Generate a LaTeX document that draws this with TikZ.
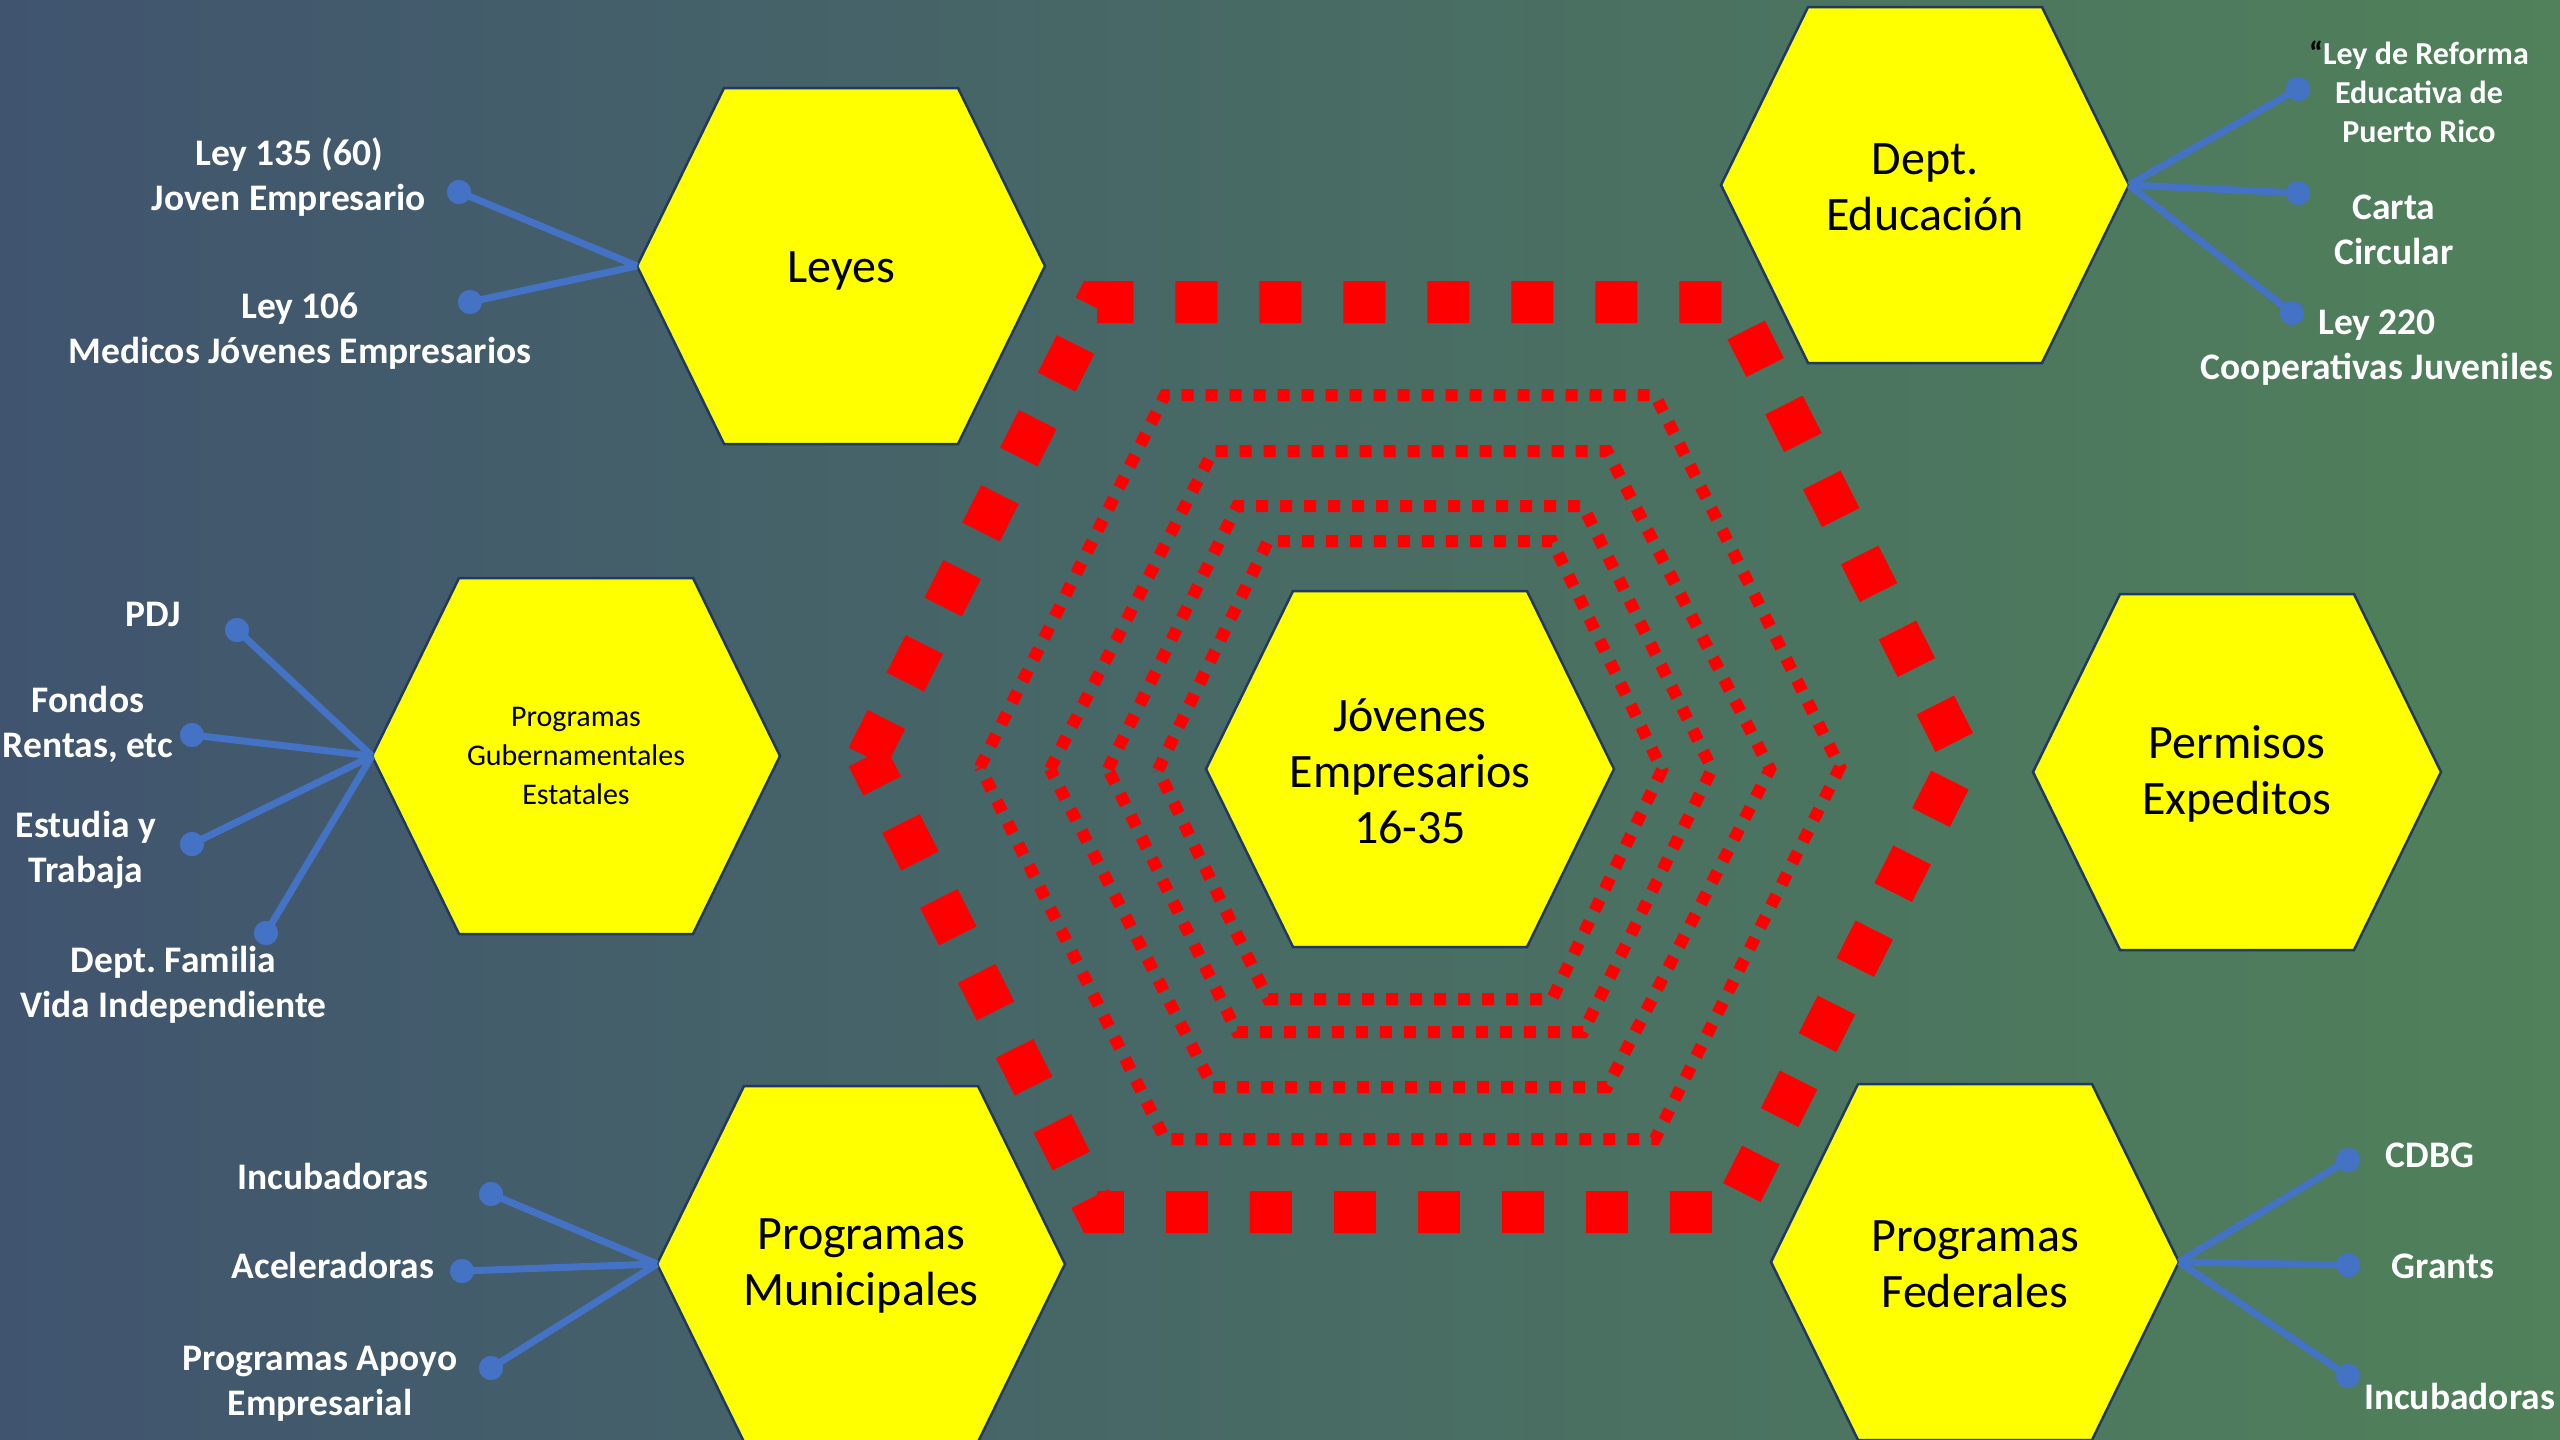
\documentclass[tikz,border=0pt]{standalone}
\usepackage{fontspec}
\setmainfont{Carlito}
\frenchspacing
\definecolor{bgleft}{RGB}{64,84,111}
\definecolor{bgright}{RGB}{80,129,90}
\definecolor{connblue}{RGB}{68,114,196}
\definecolor{hexborder}{RGB}{31,56,100}
\definecolor{hexyellow}{RGB}{255,255,0}
\newcommand{\hexnode}[5]{%
  \path[hexshape] (#2-204,#3) -- (#2-117,#3-178) -- (#2+117,#3-178) -- (#2+204,#3) -- (#2+117,#3+178) -- (#2-117,#3+178) -- cycle;
  \node[hextext,#4] (#1) at (#2,#3) {#5};
  \coordinate (#1L) at (#2-204,#3);
  \coordinate (#1R) at (#2+204,#3);
}
\newcommand{\dashhex}[6]{% style, cx, cy, half width, top half, half height
  \draw[#1] (#2-#4,#3) -- (#2-#5,#3-#6) -- (#2+#5,#3-#6) -- (#2+#4,#3) -- (#2+#5,#3+#6) -- (#2-#5,#3+#6) -- (#2-#4,#3);
}
\begin{document}
\begin{tikzpicture}[x=1pt,y=-1pt,
  hexshape/.style={fill=hexyellow, draw=hexborder, line width=2.5pt, line join=miter},
  hextext/.style={align=center, font=\fontsize{48}{56}\selectfont, text=black, inner sep=0pt},
  smallhex/.style={font=\fontsize{30}{39}\selectfont},
  lbl/.style={align=center, font=\fontsize{37.5}{45}\selectfont\bfseries, text=white, inner sep=0pt},
  smalllbl/.style={font=\fontsize{32}{39}\selectfont\bfseries},
  conn/.style={draw=connblue, line width=7pt},
  dot/.style={circle, fill=connblue, inner sep=0pt, minimum size=24pt},
  bigdash/.style={draw=red, line width=42pt, dash pattern=on 42pt off 42pt, line join=miter},
  smalldash/.style={draw=red, line width=12pt, dash pattern=on 12pt off 12pt, line join=miter}
]
\useasboundingbox (0,0) rectangle (2560,1440);
\shade[left color=bgleft, right color=bgright] (0,0) rectangle (2560,1440);

% red dashed hexagons
\dashhex{bigdash}{1414.5}{757}{547}{317.5}{455}
\dashhex{smalldash}{1410}{767}{430}{245}{372}
\dashhex{smalldash}{1410}{769}{360}{197}{318}
\dashhex{smalldash}{1410}{769}{302}{173}{263}
\dashhex{smalldash}{1410}{770}{252}{142}{229}

% yellow hexagons
\hexnode{leyes}{841}{266}{yshift=-5pt}{Leyes}
\hexnode{educ}{1925}{185}{yshift=-2pt}{Dept.\\Educación}
\hexnode{gub}{576}{756}{smallhex}{Programas\\Gubernamentales\\Estatales}
\hexnode{jov}{1410}{769}{yshift=-2pt}{Jóvenes\\Empresarios\\16-35}
\hexnode{perm}{2237}{772}{yshift=-2pt}{Permisos\\Expeditos}
\hexnode{muni}{861}{1264}{yshift=-2pt}{Programas\\Municipales}
\hexnode{fed}{1975}{1262}{yshift=-2pt}{Programas\\Federales}

% dots
\node[dot] (l1) at (459,192) {};
\node[dot] (l2) at (470,302) {};
\node[dot] (g1) at (237,630) {};
\node[dot] (g2) at (192,735) {};
\node[dot] (g3) at (192,844) {};
\node[dot] (g4) at (266,933) {};
\node[dot] (e1) at (2298,89) {};
\node[dot] (e2) at (2298,193) {};
\node[dot] (e3) at (2292,313) {};
\node[dot] (m1) at (491,1194) {};
\node[dot] (m2) at (462,1271) {};
\node[dot] (m3) at (491,1368) {};
\node[dot] (f1) at (2348,1160) {};
\node[dot] (f2) at (2348,1265) {};
\node[dot] (f3) at (2348,1376) {};

% connectors
\foreach \d in {l1,l2} \draw[conn] (leyesL) -- (\d.center);
\foreach \d in {g1,g2,g3,g4} \draw[conn] (gubL) -- (\d.center);
\foreach \d in {e1,e2,e3} \draw[conn] (educR) -- (\d.center);
\foreach \d in {m1,m2,m3} \draw[conn] (muniL) -- (\d.center);
\foreach \d in {f1,f2,f3} \draw[conn] (fedR) -- (\d.center);
\foreach \d in {l1,l2,g1,g2,g3,g4,e1,e2,e3,m1,m2,m3,f1,f2,f3} \fill[connblue] (\d.center) circle (12);

% labels
\node[lbl] (t1) at (289,177) {Ley 135 (60)\\Joven Empresario};
\node[lbl] (t2) at (300,331.5) {Ley 106\\Medicos Jóvenes Empresarios};
\node[lbl] (t3) at (153,614) {PDJ};
\node[lbl] (t4) at (88,724) {Fondos\\Rentas, etc};
\node[lbl] (t5) at (86,850.5) {Estudia y\\Trabaja};
\node[lbl] (t6) at (173.5,985) {Dept. Familia\\Vida Independiente};
\node[lbl,smalllbl] (t7) at (2419,92) {{\color{black}“}Ley de Reforma\\Educativa de\\Puerto Rico};
\node[lbl] (t8) at (2394,229.5) {Carta\\Circular};
\node[lbl] (t9) at (2377,348) {Ley 220\\Cooperativas Juveniles};
\node[lbl] (t10) at (333,1176) {Incubadoras};
\node[lbl] (t11) at (333,1265) {Aceleradoras};
\node[lbl] (t12) at (320,1384) {Programas Apoyo\\Empresarial};
\node[lbl] (t13) at (2430,1155.5) {CDBG};
\node[lbl] (t14) at (2443,1266) {Grants};
\node[lbl] (t15) at (2459.5,1396) {Incubadoras};
\end{tikzpicture}
\end{document}
